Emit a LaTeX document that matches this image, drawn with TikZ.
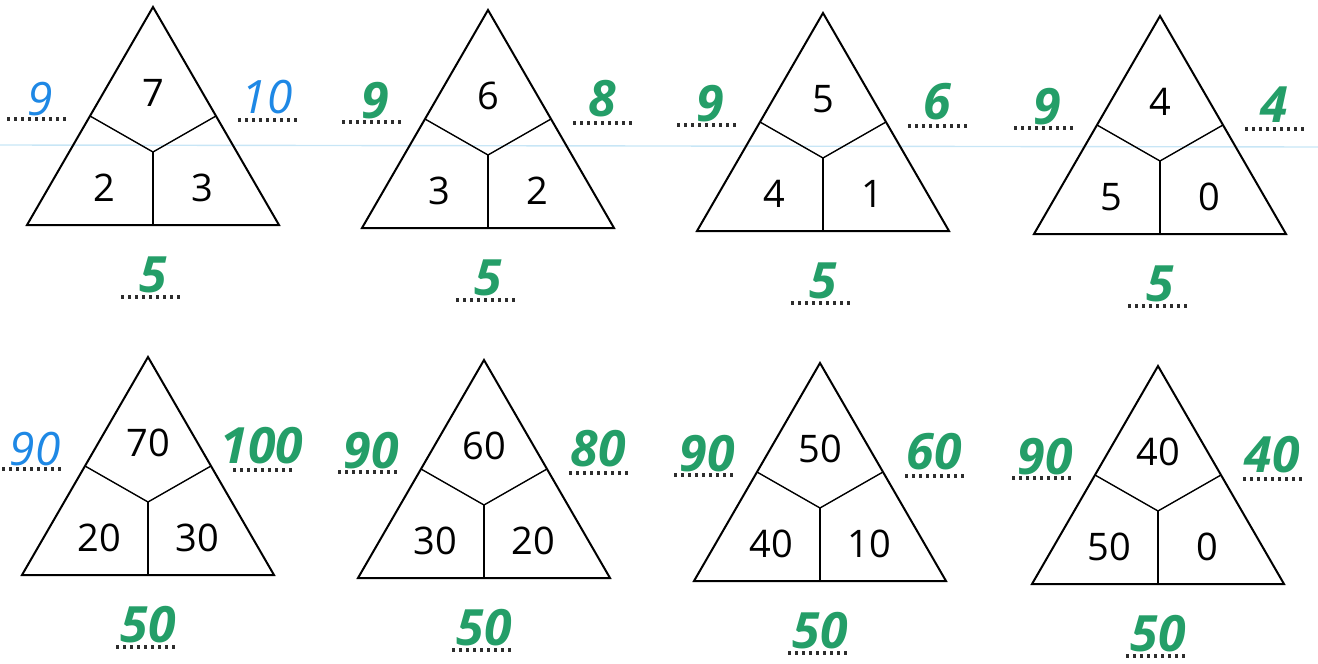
\documentclass[tikz,border=0pt]{standalone}
\usepackage{fontspec}
\setmainfont{Open Sans}
\definecolor{penblue}{RGB}{30,136,229}
\definecolor{pengreen}{RGB}{36,158,104}
\definecolor{ruleblue}{RGB}{200,230,246}
\definecolor{dotgray}{RGB}{45,45,45}
% size and stroke of each pen
\newcommand{\wpenblue}{\fontsize{23}{27}\selectfont\mdseries}
\newcommand{\wpengreen}{\fontsize{25}{29}\selectfont\bfseries}

\begin{document}
\begin{tikzpicture}[
      x=0.5pt,y=-0.5pt,
      tri/.style={draw=black,line width=1pt,line join=miter},
      part/.style={draw=black,line width=0.7pt},
      num/.style={font=\fontsize{19}{22}\selectfont,inner sep=0pt},
      hand/.style={text=#1,inner sep=0pt,anchor=base,
        font=\itshape\csname w#1\endcsname},
      answer/.style={draw=dotgray,line width=1.8pt,dash pattern=on 1.6pt off 1.9pt}
    ]
      \useasboundingbox (0,0) rectangle (1318,664);
      \draw[ruleblue,line width=0.7pt] (0,145) -- (1318,147);

      \foreach \n/\ax/\ay/\ntop/\nleft/\nright/\sumL/\colL/\sumR/\colR/\sumB in {
          t1/153/7/7/2/3/9/penblue/10/penblue/5,
          t2/488/10/6/3/2/9/pengreen/8/pengreen/5,
          t3/823/13/5/4/1/9/pengreen/6/pengreen/5,
          t4/1160/16/4/5/0/9/pengreen/4/pengreen/5,
          t5/148/357/70/20/30/90/penblue/100/pengreen/50,
          t6/484/360/60/30/20/90/pengreen/80/pengreen/50,
          t7/820/363/50/40/10/90/pengreen/60/pengreen/50,
          t8/1158/366/40/50/0/90/pengreen/40/pengreen/50}{
        \begin{scope}[shift={(\ax,\ay)}]
          \coordinate (\n a) at (0,0);
          \coordinate (\n l) at (-126,218);
          \coordinate (\n r) at (126,218);
          \coordinate (\n c) at (0,145);
          \draw[tri] (\n a) -- (\n l) -- (\n r) -- cycle;
          \draw[part] (-63,109) -- (\n c) -- (63,109);
          \draw[part] (\n c) -- (0,218);

          \node[num] (\n top) at (0,86) {\ntop};
          \node[num] (\n bl) at (-49,181) {\nleft};
          \node[num] (\n br) at (49,181) {\nright};

          % written answers
          \node[hand=\colL] (\n sl) at (-113,108) {\sumL};
          \node[hand=\colR] (\n sr) at (114,106) {\sumR};
          \node[hand=pengreen] (\n sb) at (0,285) {\sumB};
          \draw[answer] (-146,112) -- (-85,112);
          \draw[answer] (85,113) -- (146,113);
          \draw[answer] (-32,290) -- (29,290);
        \end{scope}
      }
    \end{tikzpicture}
\end{document}
